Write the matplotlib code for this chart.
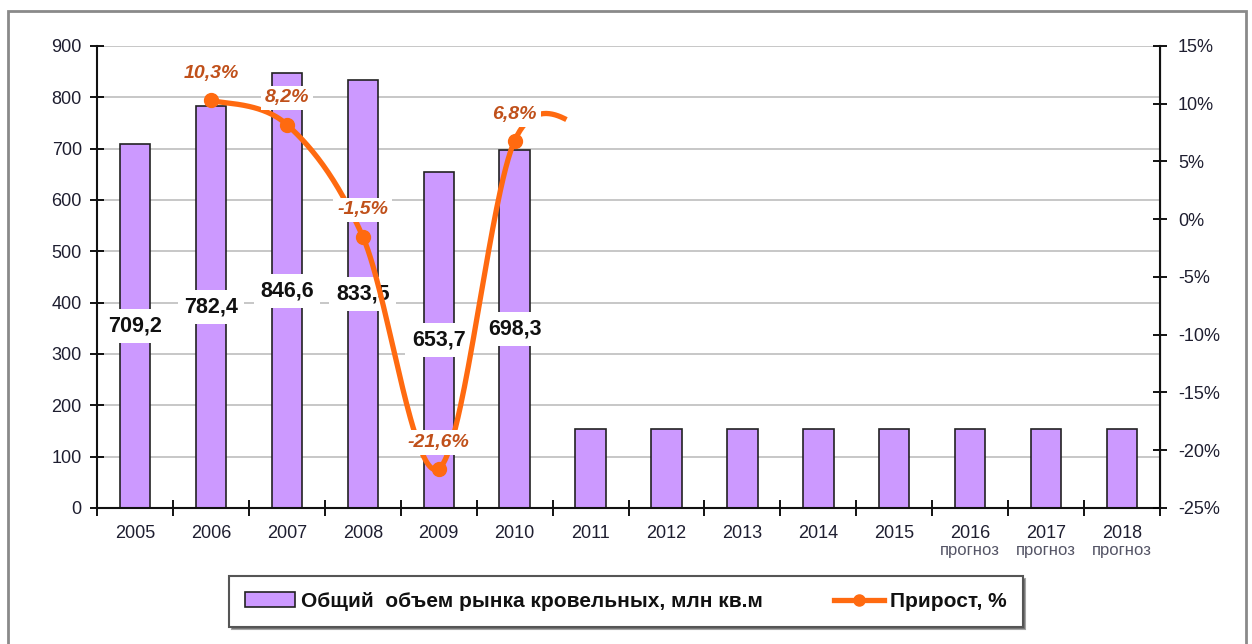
import matplotlib
matplotlib.use("Agg")
import matplotlib.pyplot as plt
import numpy as np
from matplotlib.lines import Line2D
from matplotlib.patches import Patch, Rectangle

plt.rcParams["font.family"] = ["Liberation Sans", "DejaVu Sans"]

years = ["2005", "2006", "2007", "2008", "2009", "2010", "2011",
         "2012", "2013", "2014", "2015", "2016", "2017", "2018"]
volume = [709.2, 782.4, 846.6, 833.5, 653.7, 698.3, 154,
          154, 154, 154, 154, 154, 154, 154]
volume_labels = ["709,2", "782,4", "846,6", "833,5", "653,7", "698,3"]

# growth, % (2011 point only shapes the tail of the curve)
growth_years = [1, 2, 3, 4, 5, 6]
growth = [10.3, 8.2, -1.5, -21.6, 6.8, 7.6]
growth_labels = ["10,3%", "8,2%", "-1,5%", "-21,6%", "6,8%"]
forecast_years = ["2016", "2017", "2018"]

BAR_COLOR = "#CC99FF"
LINE_COLOR = "#FF6A10"
PCT_COLOR = "#C0501A"
TEXT_COLOR = "#1E1E30"


def smooth_curve(xs, ys, n=60):
    # Bezier segments with Catmull-Rom style control points
    pts = np.column_stack([xs, ys]).astype(float)
    ext = np.vstack([pts[0], pts, pts[-1]])
    out = []
    t = np.linspace(0, 1, n)[:, None]
    for i in range(len(pts) - 1):
        p0, p3 = ext[i + 1], ext[i + 2]
        c1 = p0 + (ext[i + 2] - ext[i]) / 6
        c2 = p3 - (ext[i + 3] - ext[i + 1]) / 6
        seg = ((1 - t) ** 3) * p0 + 3 * ((1 - t) ** 2) * t * c1 \
            + 3 * (1 - t) * t ** 2 * c2 + t ** 3 * p3
        out.append(seg)
    return np.vstack(out)


fig = plt.figure(figsize=(12.52, 6.44), dpi=100)
ax = fig.add_axes([0.0775, 0.2112, 0.849, 0.7174])
ax2 = ax.twinx()

x = np.arange(len(years))
ax.bar(x, volume, width=0.4, color=BAR_COLOR, edgecolor="#222222",
       linewidth=1.2, zorder=2)
for i, lab in enumerate(volume_labels):
    ax.text(x[i], volume[i] / 2, lab, ha="center", va="center",
            fontsize=15.5, fontweight="bold", color="#111111", zorder=5,
            bbox=dict(boxstyle="square,pad=0.3", fc="white", ec="none"))

ax.set_xlim(-0.5, len(years) - 0.5)
ax.set_ylim(0, 900)
ax.set_yticks(np.arange(0, 901, 100))
ax.set_xticks(x)
ax.set_xticklabels(years)
ax.set_xticks(np.arange(-0.5, len(years), 1), minor=True)
ax.tick_params(axis="x", which="major", length=0, pad=12,
               labelsize=13, labelcolor=TEXT_COLOR)
ax.tick_params(axis="x", which="minor", direction="inout", length=12,
               width=1.3)
ax.tick_params(axis="y", direction="inout", length=10, width=1.3,
               labelsize=13, labelcolor=TEXT_COLOR, pad=6)
ax.grid(axis="y", color="#BDBDBD", linewidth=1.2, zorder=0)
ax.set_axisbelow(True)
ax.spines["top"].set_visible(False)
for side in ["left", "bottom"]:
    ax.spines[side].set_linewidth(1.5)
    ax.spines[side].set_color("#111111")

for yr in forecast_years:
    ax.text(years.index(yr), -0.093, "прогноз", transform=ax.get_xaxis_transform(),
            ha="center", va="center", fontsize=12, color="#555566")

# growth line on the right axis
curve = smooth_curve(growth_years, growth)
curve = curve[curve[:, 0] <= 5.7]
ax2.plot(curve[:, 0], curve[:, 1], color=LINE_COLOR, linewidth=3.8,
         solid_capstyle="butt", zorder=3)
ax2.plot(growth_years[:5], growth[:5], "o", color=LINE_COLOR,
         markersize=10, zorder=3)
for gx, gy, lab in zip(growth_years, growth, growth_labels):
    ax2.text(gx, gy + 2.3, lab, ha="center", va="center", fontsize=14,
             fontweight="bold", fontstyle="italic", color=PCT_COLOR, zorder=6,
             bbox=dict(boxstyle="square,pad=0.2", fc="white", ec="none"))

ax2.set_ylim(-25, 15)
pct_ticks = np.arange(-25, 16, 5)
ax2.set_yticks(pct_ticks)
ax2.set_yticklabels([f"{v}%" for v in pct_ticks])
ax2.tick_params(axis="y", direction="inout", length=10, width=1.3,
                labelsize=13, labelcolor=TEXT_COLOR, pad=8)
for side in ["top", "left", "bottom"]:
    ax2.spines[side].set_visible(False)
ax2.spines["right"].set_linewidth(1.5)
ax2.spines["right"].set_color("#111111")

handles = [
    Patch(facecolor=BAR_COLOR, edgecolor="#222222", linewidth=1.2),
    Line2D([0], [0], color=LINE_COLOR, linewidth=3.8, marker="o",
           markersize=8),
]
labels = ["Общий  объем рынка кровельных, млн кв.м", "Прирост, %"]
leg = fig.legend(handles, labels, loc="center", ncol=2,
                 bbox_to_anchor=(0.5, 0.066), frameon=True,
                 fancybox=False, shadow=True, edgecolor="#555555",
                 prop=dict(size=15, weight="bold"), handlelength=2.4,
                 handleheight=0.7, columnspacing=3.4, borderpad=0.75,
                 handletextpad=0.3, borderaxespad=0)
leg.get_frame().set_linewidth(1.5)
for t in leg.get_texts():
    t.set_color("#111111")

fig.patches.append(Rectangle((8 / 1252, -0.02), 1238 / 1252, 1.02 - 11 / 644,
                             transform=fig.transFigure, fill=False,
                             edgecolor="#8A8A8A", linewidth=2))

fig.savefig("out.png", dpi=100, facecolor="white")
